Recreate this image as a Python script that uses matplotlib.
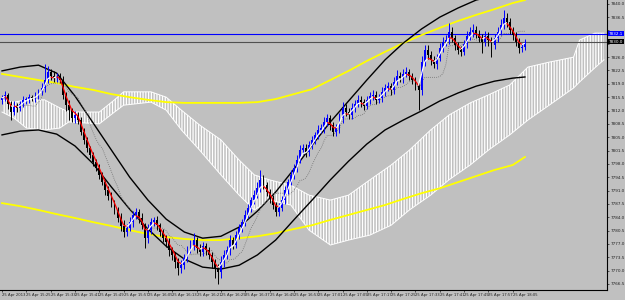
import numpy as np
import matplotlib
matplotlib.use("Agg")
import matplotlib.pyplot as plt
import matplotlib.transforms as mtransforms
from matplotlib.collections import LineCollection

# ---------------- data ----------------
first_open = 7814.8
close = [
    7815.3, 7816.1, 7813.7, 7811.6, 7813.2, 7812.7, 7813.7, 7814.8, 7815.0, 7815.5,
    7815.3, 7815.8, 7816.9, 7817.9, 7820.0, 7822.1, 7821.1, 7820.5, 7821.1, 7820.0,
    7816.1, 7813.4, 7812.1, 7810.0, 7810.8, 7809.5, 7806.4, 7804.3, 7802.2, 7800.3,
    7798.5, 7796.9, 7795.1, 7793.2, 7791.1, 7789.6, 7787.7, 7785.9, 7783.8, 7781.7,
    7780.1, 7781.2, 7782.7, 7784.6, 7785.4, 7783.8, 7781.9, 7778.5, 7780.6, 7782.7,
    7783.3, 7781.9, 7780.1, 7778.5, 7777.5, 7775.4, 7774.1, 7772.2, 7770.6, 7771.4,
    7773.3, 7775.4, 7776.7, 7778.0, 7775.9, 7774.9, 7776.4, 7775.4, 7774.1, 7772.2,
    7770.6, 7769.6, 7772.2, 7774.1, 7775.4, 7778.0, 7776.7, 7779.3, 7781.2, 7782.7,
    7784.6, 7786.4, 7788.5, 7789.8, 7791.7, 7793.8, 7792.4, 7790.6, 7789.0, 7787.2,
    7785.4, 7786.4, 7788.5, 7791.1, 7793.2, 7795.1, 7796.9, 7799.0, 7801.6, 7802.2,
    7801.1, 7802.9, 7804.3, 7805.6, 7806.9, 7807.4, 7809.0, 7810.0, 7808.2, 7806.4,
    7807.4, 7810.0, 7812.7, 7811.6, 7810.8, 7812.7, 7813.7, 7814.8, 7814.2, 7813.2,
    7814.8, 7815.8, 7816.1, 7814.8, 7815.3, 7816.9, 7817.9, 7818.4, 7817.4, 7819.5,
    7821.1, 7820.5, 7821.6, 7822.1, 7821.1, 7820.0, 7818.7, 7817.4, 7824.7, 7827.9,
    7826.6, 7825.3, 7824.2, 7825.8, 7828.4, 7830.0, 7830.5, 7832.6, 7831.0, 7829.2,
    7827.9, 7827.4, 7829.5, 7831.6, 7832.6, 7833.1, 7832.1, 7831.0, 7830.0, 7831.6,
    7830.5, 7829.2, 7831.0, 7832.6, 7834.4, 7836.3, 7835.2, 7833.1, 7831.8, 7830.0,
    7828.4, 7828.7, 7830.0,
]
upper_wick = [
    0.8, 1.0, 0.6, 0.9, 1.2, 0.7, 0.8, 1.1, 0.6, 0.9,
    0.7, 1.0, 0.8, 1.3, 4.2, 1.5, 0.9, 1.2, 0.8, 0.7,
    1.0, 0.8, 1.4, 0.6, 1.1, 0.9, 0.7, 1.0, 0.8, 0.6,
    0.9, 0.7, 1.1, 0.8, 0.6, 1.0, 0.9, 0.7, 0.8, 1.2,
    1.5, 1.0, 1.3, 1.1, 0.9, 0.8, 1.2, 0.7, 1.6, 1.0,
    0.8, 1.1, 0.7, 0.9, 0.8, 1.0, 0.7, 0.9, 1.2, 1.4,
    1.1, 1.0, 1.3, 1.8, 0.9, 1.0, 1.2, 0.8, 0.9, 0.7,
    0.8, 1.0, 1.5, 1.2, 1.0, 1.4, 0.9, 1.1, 1.0, 0.9,
    1.2, 1.0, 0.9, 1.3, 1.5, 2.6, 1.4, 0.8, 0.9, 0.7,
    0.9, 1.2, 1.0, 1.1, 0.9, 1.3, 1.0, 1.2, 1.4, 1.0,
    0.9, 1.1, 1.0, 0.8, 1.2, 1.0, 1.3, 1.1, 0.8, 0.9,
    1.0, 1.4, 1.6, 0.9, 1.0, 1.2, 1.0, 1.3, 0.9, 0.8,
    1.0, 1.1, 1.3, 0.9, 1.0, 1.2, 1.0, 1.1, 0.9, 1.3,
    1.4, 1.0, 1.2, 1.3, 0.9, 0.8, 0.9, 1.0, 1.5, 1.4,
    1.2, 1.0, 0.9, 1.1, 1.3, 1.2, 1.4, 2.4, 1.2, 0.9,
    0.8, 1.0, 1.1, 1.3, 1.2, 1.5, 1.1, 0.9, 1.0, 1.2,
    1.0, 0.9, 1.2, 1.4, 1.6, 2.1, 1.3, 1.0, 0.9, 0.8,
    0.9, 1.1, 0.8,
]
lower_wick = [
    1.0, 0.8, 1.2, 2.0, 0.9, 1.1, 0.8, 0.7, 1.0, 0.9,
    0.8, 1.1, 0.7, 0.9, 1.0, 0.8, 1.2, 0.9, 1.0, 0.8,
    1.2, 1.5, 2.5, 1.0, 1.3, 1.1, 0.9, 1.2, 1.0, 0.8,
    1.0, 0.9, 1.1, 0.8, 1.2, 1.0, 0.9, 1.1, 1.0, 1.3,
    1.4, 1.0, 0.9, 1.2, 1.0, 1.3, 1.1, 2.5, 1.2, 0.9,
    1.0, 1.2, 0.9, 1.1, 1.3, 1.5, 1.2, 1.6, 1.8, 1.2,
    1.0, 1.1, 0.9, 1.2, 1.4, 1.0, 1.1, 1.2, 1.0, 1.4,
    2.5, 3.2, 1.5, 1.2, 1.0, 1.3, 1.1, 0.9, 1.0, 1.2,
    1.0, 0.9, 1.1, 1.0, 0.8, 1.2, 1.0, 1.1, 1.3, 1.0,
    1.2, 1.0, 0.9, 1.1, 1.0, 0.8, 1.2, 1.0, 0.9, 1.1,
    1.3, 1.0, 0.9, 1.1, 1.0, 0.8, 1.2, 1.0, 1.4, 1.1,
    1.0, 1.3, 1.2, 1.0, 0.9, 1.1, 1.0, 0.8, 1.2, 1.0,
    0.9, 1.1, 1.0, 1.2, 0.9, 1.0, 1.1, 0.9, 1.2, 1.0,
    0.9, 1.0, 1.2, 0.8, 1.0, 1.1, 1.3, 5.3, 1.2, 1.0,
    1.1, 1.3, 1.0, 1.2, 0.9, 1.0, 1.2, 1.0, 1.1, 1.3,
    1.2, 1.0, 0.9, 1.1, 1.0, 1.2, 1.1, 1.0, 3.0, 1.2,
    1.5, 3.2, 1.0, 1.1, 0.9, 1.0, 1.2, 1.1, 1.3, 1.0,
    1.2, 1.0, 0.9,
]

band_idx = [0, 6, 12, 18, 24, 30, 36, 42, 48, 54, 60, 66, 72, 78, 84, 90, 96, 102,
            108, 114, 120, 126, 132, 138, 144, 150, 156, 162, 168, 172]
upper_black = [7822.4, 7823.4, 7823.9, 7821.8, 7815.8, 7808.7, 7801.6, 7794.5, 7788.5, 7783.5,
               7780.1, 7778.5, 7779.0, 7781.4, 7785.6, 7790.6, 7796.6, 7802.9, 7809.0, 7814.5,
               7820.0, 7825.3, 7829.7, 7833.4, 7836.5, 7838.9, 7841.0, 7842.1, 7842.3, 7842.1]
lower_black = [7805.6, 7806.6, 7806.9, 7805.8, 7802.7, 7798.0, 7791.9, 7786.1, 7780.9, 7776.4,
               7773.0, 7770.9, 7770.4, 7771.4, 7774.1, 7778.0, 7783.3, 7788.5, 7793.8, 7798.7,
               7803.2, 7806.9, 7809.5, 7811.9, 7814.5, 7816.6, 7818.4, 7819.7, 7820.5, 7820.8]
upper_yellow = [7821.6, 7820.8, 7820.0, 7819.2, 7818.2, 7817.4, 7816.3, 7815.5, 7814.8, 7814.2,
                7814.0, 7814.0, 7814.0, 7814.0, 7814.2, 7815.0, 7816.3, 7817.6, 7820.0, 7822.4,
                7825.0, 7827.4, 7829.7, 7831.8, 7833.7, 7835.5, 7837.1, 7838.6, 7840.2, 7841.0]
lower_yellow = [7787.7, 7786.9, 7785.9, 7784.8, 7783.8, 7782.7, 7781.7, 7780.6, 7779.6, 7778.8,
                7778.3, 7778.0, 7778.0, 7778.5, 7779.0, 7779.8, 7780.9, 7781.9, 7783.3, 7784.6,
                7785.9, 7787.2, 7788.8, 7790.3, 7791.6, 7793.2, 7794.8, 7796.4, 7797.7, 7799.8]

cloud_idx = [0, 4, 8, 14, 19, 22, 32, 37, 40, 49, 54, 59, 65, 72, 78, 83, 88, 95, 101,
             108, 114, 121, 128, 134, 141, 147, 154, 160, 167, 173, 180, 188, 190, 195, 198]
senkou_a = [7814.8, 7814.2, 7814.8, 7814.8, 7812.7, 7811.6, 7811.6, 7814.8, 7816.9, 7816.9,
            7815.5, 7812.1, 7808.2, 7804.3, 7799.0, 7795.1, 7793.8, 7792.4, 7789.8, 7788.5,
            7789.8, 7793.8, 7797.7, 7801.6, 7806.9, 7810.8, 7814.0, 7816.1, 7818.7, 7823.4,
            7824.7, 7826.0, 7830.5, 7832.3, 7832.3]
senkou_b = [7811.6, 7810.0, 7807.4, 7806.9, 7807.4, 7809.0, 7808.5, 7811.6, 7813.4, 7814.2,
            7812.1, 7806.9, 7801.6, 7795.1, 7789.8, 7785.9, 7788.5, 7787.2, 7780.6, 7776.7,
            7778.0, 7779.3, 7781.9, 7785.9, 7789.8, 7793.8, 7797.7, 7801.6, 7805.6, 7809.5,
            7813.4, 7817.9, 7819.5, 7823.2, 7825.3]

blue_level = 7832.1
bid_level = 7830.0

price_ticks = [7840.0, 7836.5, 7833.0, 7829.5, 7826.0, 7822.5, 7819.0, 7815.5, 7812.0, 7808.5,
               7805.0, 7801.5, 7798.0, 7794.5, 7791.0, 7787.5, 7784.0, 7780.5, 7777.0, 7773.5,
               7770.0, 7766.5]
time_tick_idx = [0, 8, 16, 24, 32, 40, 48, 56, 64, 72, 80, 88, 96, 104, 112, 120, 128, 136,
                 144, 152, 160, 168]
time_labels = ["25 Apr 2013", "25 Apr 15:25", "25 Apr 15:33", "25 Apr 15:41", "25 Apr 15:49",
               "25 Apr 15:57", "25 Apr 16:05", "25 Apr 16:13", "25 Apr 16:21", "25 Apr 16:29",
               "25 Apr 16:37", "25 Apr 16:45", "25 Apr 16:53", "25 Apr 17:01", "25 Apr 17:09",
               "25 Apr 17:17", "25 Apr 17:25", "25 Apr 17:33", "25 Apr 17:41", "25 Apr 17:49",
               "25 Apr 17:57", "25 Apr 18:05"]

# ---------------- derived ----------------
close = np.array(close)
opens = np.concatenate([[first_open], close[:-1]])
high = np.maximum(opens, close) + np.array(upper_wick)
low = np.minimum(opens, close) - np.array(lower_wick)
idx = np.arange(len(close))

ema = np.zeros_like(close)
alpha = 2.0 / (3 + 1)
ema[0] = close[0]
for i in range(1, len(close)):
    ema[i] = alpha * close[i] + (1 - alpha) * ema[i - 1]

tenkan = np.array([(high[max(0, i - 8):i + 1].max() + low[max(0, i - 8):i + 1].min()) / 2
                   for i in range(len(close))])

# ---------------- figure ----------------
BG = "#C0C0C0"
plt.rcParams["hatch.color"] = "white"
plt.rcParams["hatch.linewidth"] = 0.9
fig = plt.figure(figsize=(6.25, 3.0), dpi=100, facecolor=BG)
ax = fig.add_axes([0.0, 10 / 300, 607 / 625, 290 / 300])
ax.set_facecolor(BG)
ax.set_xlim(-0.66, 199.0)
ax.set_ylim(7764.9, 7841.0)

ax.fill_between(cloud_idx, senkou_a, senkou_b, facecolor="none", edgecolor="white",
                hatch="||||||", linewidth=0, zorder=1)
ax.plot(cloud_idx, senkou_a, color="white", lw=0.7, zorder=1)
ax.plot(cloud_idx, senkou_b, color="white", lw=0.7, zorder=1)

ax.axhline(blue_level, color="#0000FF", lw=0.8, zorder=2)
ax.axhline(bid_level, color="#505050", lw=0.8, zorder=2)

ax.plot(band_idx, upper_yellow, color="#FFFF00", lw=1.3, zorder=2)
ax.plot(band_idx, lower_yellow, color="#FFFF00", lw=1.3, zorder=2)
ax.plot(band_idx, upper_black, color="black", lw=1.0, zorder=2)
ax.plot(band_idx, lower_black, color="black", lw=1.0, zorder=2)

ax.plot(idx, tenkan, color="#707070", lw=0.6, ls=(0, (1, 1.5)), zorder=2)

bull = close >= opens
cols = np.where(bull, "#0000FF", "#000000")
ax.vlines(idx, low, high, colors=cols, lw=0.7, zorder=3)
body_lo = np.minimum(opens, close)
body_h = np.maximum(np.abs(close - opens), 0.15)
ax.bar(idx, body_h, bottom=body_lo, width=0.62, color=cols, linewidth=0, zorder=3)

pts = np.column_stack([idx, ema])
segs = np.stack([pts[:-1], pts[1:]], axis=1)
seg_cols = ["#FF0000" if ema[i + 1] < ema[i] else "white" for i in range(len(ema) - 1)]
ax.add_collection(LineCollection(segs, colors=seg_cols, linewidths=0.9, zorder=4))

for s in ["left", "top"]:
    ax.spines[s].set_visible(False)
ax.spines["right"].set_color("black")
ax.spines["bottom"].set_color("black")
ax.spines["right"].set_linewidth(0.8)
ax.spines["bottom"].set_linewidth(0.8)
ax.yaxis.tick_right()
ax.set_yticks(price_ticks)
# labels hidden behind the two price boxes are left blank
ylabels = ["" if abs(p - blue_level) < 1.5 or abs(p - bid_level) < 1.5 else f"{p:.1f}"
           for p in price_ticks]
ax.set_yticklabels(ylabels, fontsize=3.0, color="#202020")
ax.tick_params(axis="y", length=1.5, width=0.5, pad=1.0, colors="#202020")
ax.set_xticks(time_tick_idx)
ax.set_xticklabels(time_labels, fontsize=2.7, color="#202020", ha="left")
ax.tick_params(axis="x", length=1.5, width=0.5, pad=1.0, colors="#202020")

trans = mtransforms.blended_transform_factory(ax.transAxes, ax.transData)
ax.text(1.003, blue_level, f"{blue_level:.1f}", transform=trans, fontsize=3.0, color="white",
        va="center", ha="left", zorder=6,
        bbox=dict(boxstyle="square,pad=0.12", fc="#0000FF", ec="none"))
ax.text(1.003, bid_level, f"{bid_level:.1f}", transform=trans, fontsize=3.0, color="white",
        va="center", ha="left", zorder=6,
        bbox=dict(boxstyle="square,pad=0.12", fc="#000000", ec="none"))

fig.savefig("out.png", dpi=100, facecolor=BG)
